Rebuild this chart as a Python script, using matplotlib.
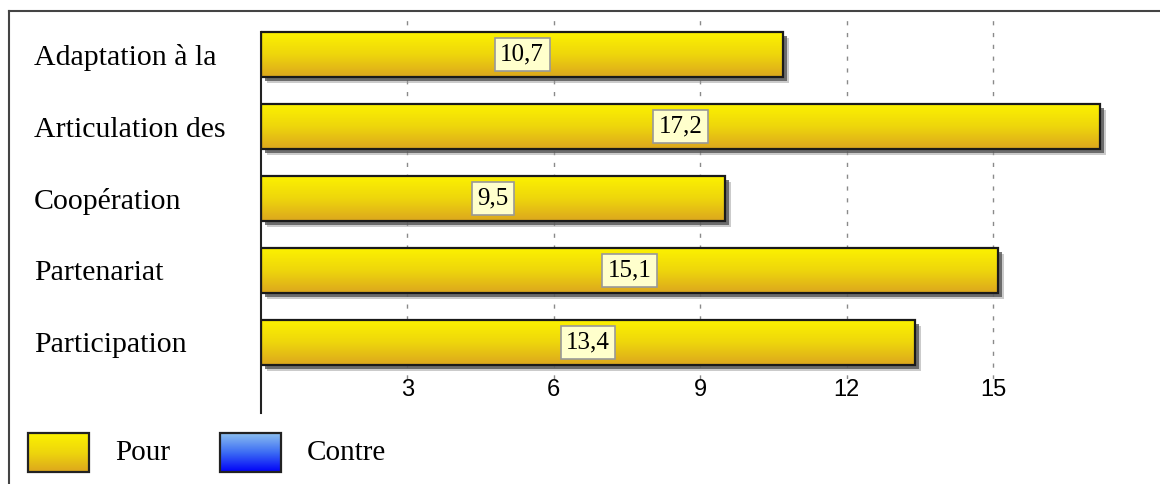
import matplotlib
matplotlib.use("Agg")
import matplotlib.pyplot as plt
import numpy as np
from matplotlib.colors import LinearSegmentedColormap
from matplotlib.transforms import ScaledTranslation
from matplotlib.lines import Line2D
from matplotlib.patches import Rectangle

categories = ["Adaptation à la", "Articulation des", "Coopération", "Partenariat", "Participation"]
pour = [10.7, 17.2, 9.5, 15.1, 13.4]
series = ["Pour", "Contre"]
xticks = [3, 6, 9, 12, 15]

gold = LinearSegmentedColormap.from_list("gold", ["#FCF200", "#EED60C", "#DCA61E"])
blue = LinearSegmentedColormap.from_list("blue", ["#8CC0F0", "#3C6CF4", "#0000F8"])
grad = np.linspace(0, 1, 256).reshape(-1, 1)

W, H = 1160, 484
fig = plt.figure(figsize=(W / 100, H / 100), dpi=100)

# main bar area, in pixel units of the figure
left, top, bottom, xmax = 261, 18.5, 378.5, 18
px_per_unit = 48.8
ax = fig.add_axes([left / W, 1 - bottom / H, xmax * px_per_unit / W, (bottom - top) / H])

y = np.arange(len(categories))
bar_h = 0.625

# soft drop shadows behind the bars
for off, col, a in [(6, "#999999", 0.5), (4, "#555555", 0.8)]:
    sh = ax.barh(y, pour, height=bar_h, color=col, alpha=a, lw=0, zorder=1)
    for p in sh:
        p.set_transform(ax.transData + ScaledTranslation(off / 100, -off / 100, fig.dpi_scale_trans))

bars = ax.barh(y, pour, height=bar_h, facecolor="none", edgecolor="#1a1a1a", lw=1.6, zorder=3)
for p, v in zip(bars, pour):
    x0, y0, w, h = p.get_x(), p.get_y(), p.get_width(), p.get_height()
    ax.imshow(grad, cmap=gold, aspect="auto", extent=(x0, x0 + w, y0 + h, y0),
              origin="upper", zorder=2, interpolation="bilinear")
    ax.text(x0 + w / 2, y0 + h / 2, f"{v:.1f}".replace(".", ","), ha="center", va="center",
            family="Liberation Serif", fontsize=18, zorder=4,
            bbox=dict(boxstyle="square,pad=0.22", fc="#FFFFCC", ec="#999999", lw=1.2))

ax.set_xlim(0, xmax)
ax.set_ylim(len(categories) - 0.5, -0.5)
ax.set_xticks(xticks)
ax.set_xticklabels([str(t) for t in xticks], family="Liberation Sans", fontsize=17)
ax.set_yticks(y)
ax.set_yticklabels(categories, family="Liberation Serif", fontsize=21.5, ha="left")
ax.tick_params(axis="y", length=0, pad=(left - 34) * 0.72)
ax.tick_params(axis="x", length=0, pad=0)
ax.xaxis.grid(True, color="#8a8a8a", lw=1, linestyle=(0, (3, 5.5)))
ax.set_axisbelow(True)
for s in ["top", "right", "bottom"]:
    ax.spines[s].set_visible(False)
ax.spines["left"].set_color("#222222")
ax.spines["left"].set_linewidth(1.5)
ax.spines["left"].set_bounds(-bar_h / 2, (413 - 54.5) / 72)

# legend row along the bottom
lax = fig.add_axes([0, 0, 1, 1])
lax.set_xlim(0, W)
lax.set_ylim(H, 0)
lax.axis("off")
lax.patch.set_alpha(0)
for i, (name, cm) in enumerate(zip(series, [gold, blue])):
    bx = 28 + i * 192
    lax.imshow(grad, cmap=cm, aspect="auto", extent=(bx, bx + 61, 472, 433),
               origin="upper", interpolation="bilinear", zorder=2)
    lax.add_patch(Rectangle((bx, 433), 61, 39, fc="none", ec="#222222", lw=1.6, zorder=3))
    lax.text(bx + 87, 453, name, family="Liberation Serif", fontsize=21, va="center", ha="left")
lax.set_xlim(0, W)
lax.set_ylim(H, 0)

# outer frame, only top and left edges fall inside the image
fig.add_artist(Line2D([9 / W, 1], [1 - 11 / H, 1 - 11 / H], color="#444444", lw=1.5))
fig.add_artist(Line2D([9 / W, 9 / W], [0, 1 - 11 / H], color="#444444", lw=1.5))

fig.savefig("out.png", dpi=100)
